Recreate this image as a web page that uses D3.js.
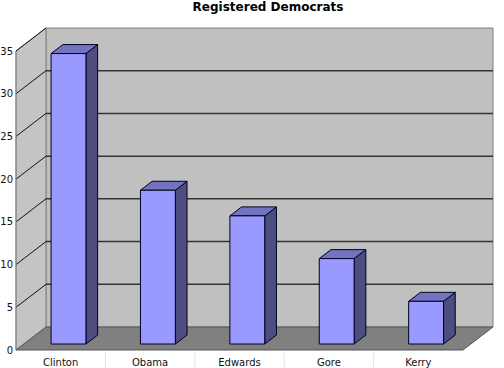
<!DOCTYPE html>
<html>
<head>
<meta charset="utf-8">
<script src="https://cdn.jsdelivr.net/npm/d3@7"></script>
<style>
  body { margin: 0; background: #fff; }
  text { font-family: "DejaVu Sans", Verdana, sans-serif; }
</style>
</head>
<body>
<div id="chart"></div>
<script>
// Chart data
const categories = ["Clinton", "Obama", "Edwards", "Gore", "Kerry"];
const values = [34, 18, 15, 10, 5];
const yTicks = [0, 5, 10, 15, 20, 25, 30, 35];
const title = "Registered Democrats";

const width = 504, height = 368;
// 3d depth offset of the plot box
const depthX = 30, depthY = -23;

const svg = d3.select("#chart")
    .append("svg")
    .attr("width", width)
    .attr("height", height);

const x = d3.scaleBand()
    .domain(categories)
    .range([16, 463])
    .paddingInner(0.61)
    .paddingOuter(0.305);

const y = d3.scaleLinear()
    .domain([0, 35])
    .range([350, 51]);

// point at given front coords pushed back by depth fraction f
const off = (px, py, f) => [px + depthX * f, py + depthY * f];
const pts = arr => arr.map(p => p.join(",")).join(" ");

const x0 = x.range()[0], x1 = x.range()[1];
const yTop = y(35), yBot = y(0);

// Back wall
svg.append("polygon")
    .attr("points", pts([off(x0, yTop, 1), off(x1, yTop, 1), off(x1, yBot, 1), off(x0, yBot, 1)]))
    .attr("fill", "#c0c0c0")
    .attr("stroke", "#808080")
    .attr("stroke-width", 1);

// Left wall
svg.append("polygon")
    .attr("points", pts([[x0, yBot], off(x0, yBot, 1), off(x0, yTop, 1), [x0, yTop]]))
    .attr("fill", "#c4c4c4")
    .attr("stroke", "#808080")
    .attr("stroke-width", 1);

// Floor
svg.append("polygon")
    .attr("points", pts([[x0, yBot], [x1, yBot], off(x1, yBot, 1), off(x0, yBot, 1)]))
    .attr("fill", "#808080")
    .attr("stroke", "#555")
    .attr("stroke-width", 1);

// Gridlines: back wall and left wall
const grid = yTicks.filter(t => t > 0 && t < 35);
svg.selectAll(".gridBack")
    .data(grid)
    .enter()
    .append("line")
    .attr("x1", d => off(x0, y(d), 1)[0])
    .attr("x2", d => off(x1, y(d), 1)[0])
    .attr("y1", d => off(x0, y(d), 1)[1])
    .attr("y2", d => off(x1, y(d), 1)[1])
    .attr("stroke", "#333")
    .attr("stroke-width", 1.5);

svg.selectAll(".gridLeft")
    .data(yTicks.filter(t => t > 0))
    .enter()
    .append("line")
    .attr("x1", x0)
    .attr("y1", d => y(d))
    .attr("x2", d => off(x0, y(d), 1)[0])
    .attr("y2", d => off(x0, y(d), 1)[1])
    .attr("stroke", "#111")
    .attr("stroke-width", 1);

// Front axis edge
svg.append("line")
    .attr("x1", x0).attr("x2", x0)
    .attr("y1", yTop).attr("y2", yBot)
    .attr("stroke", "#888");

// Y tick labels
svg.selectAll(".ylab")
    .data(yTicks)
    .enter()
    .append("text")
    .attr("x", 13)
    .attr("y", d => y(d) + 3.5)
    .attr("text-anchor", "end")
    .attr("font-size", 10)
    .attr("fill", "#111")
    .text(d => d);

// Bars (3d)
const fFront = 0.26, fBack = 0.65;
const bars = svg.selectAll(".bar")
    .data(categories.map((c, i) => ({ c, v: values[i] })))
    .enter()
    .append("g");

bars.each(function (d) {
    const g = d3.select(this);
    const bx = x(d.c), bw = x.bandwidth();
    const fl = off(bx, y(d.v), fFront), fr = off(bx + bw, y(d.v), fFront);
    const bl = off(bx, y(0), fFront), br = off(bx + bw, y(0), fFront);
    const df = fBack - fFront;
    const tl = off(fl[0], fl[1], df), tr = off(fr[0], fr[1], df), sbr = off(br[0], br[1], df);
    // side face
    g.append("polygon")
        .attr("points", pts([fr, tr, sbr, br]))
        .attr("fill", "#4d4d80")
        .attr("stroke", "#000022")
        .attr("stroke-width", 1);
    // top face
    g.append("polygon")
        .attr("points", pts([fl, tl, tr, fr]))
        .attr("fill", "#7373bf")
        .attr("stroke", "#000022")
        .attr("stroke-width", 1);
    // front face
    g.append("polygon")
        .attr("points", pts([fl, fr, br, bl]))
        .attr("fill", "#9999ff")
        .attr("stroke", "#000022")
        .attr("stroke-width", 1);
});

// Category ticks and labels
const step = x.step();
svg.selectAll(".ctick")
    .data(categories.slice(1))
    .enter()
    .append("line")
    .attr("x1", d => x(d) - step * 0.305)
    .attr("x2", d => x(d) - step * 0.305)
    .attr("y1", yBot + 3)
    .attr("y2", height)
    .attr("stroke", "#e4e4e4");

svg.selectAll(".clab")
    .data(categories)
    .enter()
    .append("text")
    .attr("x", d => x(d) + x.bandwidth() / 2)
    .attr("y", 366)
    .attr("text-anchor", "middle")
    .attr("font-size", 10)
    .attr("fill", "#111")
    .text(d => d);

// Title
svg.append("text")
    .attr("x", 268)
    .attr("y", 11)
    .attr("text-anchor", "middle")
    .attr("font-size", 12)
    .attr("font-weight", "bold")
    .text(title);
</script>
</body>
</html>
